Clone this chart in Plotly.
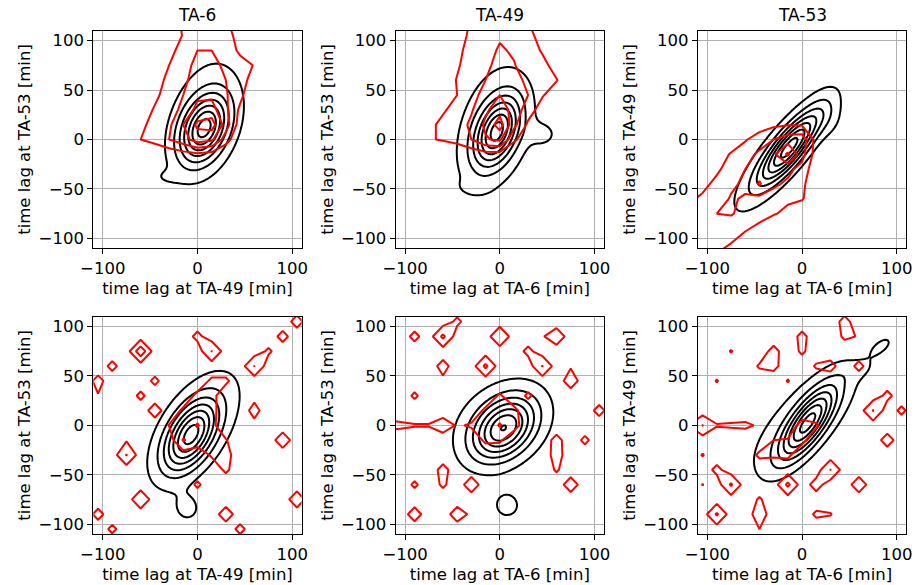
import numpy as np
import plotly.graph_objects as go

# ---------------- data ----------------
PANEL_TITLES = ["TA-6", "TA-49", "TA-53"]
X_LABELS = ["time lag at TA-49 [min]", "time lag at TA-6 [min]", "time lag at TA-6 [min]"]
Y_LABELS = ["time lag at TA-53 [min]", "time lag at TA-53 [min]", "time lag at TA-49 [min]"]
X_TICKS = [-100, 0, 100]
Y_TICKS = [-100, -50, 0, 50, 100]
LAG_RANGE = [-110, 110]

# black KDE described as blobs: (lag_x, lag_y, spread_x, spread_y, corr, height)
KDE_TOP_TA6 = [(7, 11, 17, 22.5, 0.35, 1.0), (8, 22, 34, 55, 0.3, 0.25), (-35, -38, 12, 6, 0.0, 0.08)]
KDE_TOP_TA49 = [(-3, 8, 16, 23, 0.4, 1.0), (-6, 13, 36, 60, 0.3, 0.25), (48, 5, 12, 10, 0.0, 0.14),
                (-30, -48, 12, 6, 0.0, 0.06)]
KDE_TOP_TA53 = [(-13, -8, 22, 25, 0.83, 1.0), (-22, -14, 45, 52, 0.85, 0.25), (30, 20, 12, 15, 0.0, 0.10),
                (46, 1, 4, 3, 0.0, 0.12)]
KDE_BOT_TA6 = [(-7, -10, 19, 24, 0.5, 1.0), (0, 2, 42, 50, 0.6, 0.25), (-10, -85, 12, 12, 0.0, 0.18)]
KDE_BOT_TA49 = [(4, -3, 22, 21, 0.35, 1.0), (2, 2, 45, 38, 0.2, 0.25), (8, -82, 14, 13, 0.0, 0.21)]
KDE_BOT_TA53 = [(6, 2, 20, 25, 0.75, 1.0), (0, 5, 52, 50, 0.75, 0.25), (60, 56, 14, 8, 0.5, 0.08),
                (85, 81, 11, 9, 0.6, 0.14)]
KDE_PEAK_DIVISOR = [7.5, 7.5, 7.5, 7.5, 7.05, 7.5]

# red histogram counts on a 15-min lattice, top row: rows (lag_y, first lag_x, values)
HIST_TOP_TA6 = [
    (120, -15, [1.3, 1.5, 1.5, 1.2]),
    (105, -15, [1.1, 1.8, 1.8, 1.4, 0.6]),
    (90, -30, [0.6, 1.5, 2.0, 2.0, 1.6, 0.8]),
    (75, -30, [1.0, 1.6, 2.3, 2.3, 1.8, 1.4, 0.95]),
    (60, -45, [0.5, 1.3, 1.8, 2.4, 2.5, 2.0, 1.4, 0.6]),
    (45, -45, [0.8, 1.4, 2.0, 2.8, 2.8, 2.1, 1.3]),
    (30, -60, [0.5, 1.1, 1.5, 2.3, 3.3, 3.4, 2.2, 0.8]),
    (15, -60, [0.8, 1.3, 1.8, 3.0, 4.2, 4.5, 2.5, 0.5]),
    (0, -60, [1.0, 1.4, 2.0, 2.6, 3.5, 3.2, 1.5]),
    (-15, -30, [0.3, 0.6, 0.8, 0.6]),
]
HIST_TOP_TA49 = [
    (120, -45, [0.3, 1.1, 1.4, 1.5, 1.4, 1.0, 0.2]),
    (105, -45, [0.6, 1.2, 1.6, 1.9, 1.8, 1.3, 0.6]),
    (90, -45, [0.8, 1.3, 1.7, 2.1, 1.9, 1.5, 0.9]),
    (75, -60, [0.2, 0.9, 1.4, 1.8, 2.3, 2.05, 1.6, 1.3, 0.6]),
    (60, -60, [0.5, 1.05, 1.5, 2.0, 2.6, 2.3, 1.8, 1.4, 1.05, 0.3]),
    (45, -60, [0.6, 1.0, 1.6, 2.4, 3.0, 2.5, 2.0, 1.1, 0.4]),
    (30, -75, [0.3, 0.9, 1.3, 1.9, 2.8, 3.6, 2.6, 1.5, 0.5]),
    (15, -75, [0.8, 1.2, 1.5, 2.2, 3.2, 4.5, 2.3, 0.8]),
    (0, -75, [0.9, 1.1, 1.4, 2.0, 2.9, 3.2, 1.2, 0.3]),
    (-15, -30, [0.3, 0.6, 0.6]),
]
HIST_TOP_TA53 = [
    (15, -45, [0.5, 0.8, 0.95, 0.9]),
    (0, -75, [0.3, 0.9, 1.5, 2.0, 2.5, 2.6, 0.6]),
    (-15, -90, [0.4, 1.1, 1.6, 2.2, 2.8, 4.2, 2.4, 0.5]),
    (-30, -90, [0.8, 1.5, 2.0, 2.6, 2.7, 2.3, 1.6, 0.3]),
    (-45, -105, [0.7, 1.3, 1.8, 2.2, 3.1, 2.2, 1.8, 1.3]),
    (-60, -120, [0.8, 1.2, 1.5, 2.1, 1.9, 1.7, 1.5, 1.2, 1.1, 0.2]),
    (-75, -120, [1.3, 1.4, 2.0, 2.1, 1.6, 1.3, 1.1, 0.7]),
    (-90, -120, [1.3, 1.5, 1.5, 1.3, 1.1, 0.8]),
    (-105, -120, [1.2, 1.3, 1.2, 1.0, 0.6]),
    (-120, -120, [1.1, 1.1, 0.9, 0.5]),
]
# bottom row: sparse cells (lag_x, lag_y, count)
HIST_BOT_TA6 = [
    (-60, 75, 4.5), (-90, 60, 1.5), (-105, 45, 1.6), (-105, 30, 0.9), (-45, 45, 1.4), (-60, 30, 1.4),
    (-45, 15, 1.9), (-75, -30, 3.1), (-75, -15, 0.8), (0, -60, 1.3), (-60, -75, 2.6), (-105, -90, 1.6),
    (-90, -105, 1.4), (105, 105, 1.7), (60, 120, 1.6), (90, 90, 1.6), (15, 75, 3.05), (0, 90, 1.5),
    (60, 60, 3.05), (75, 75, 1.3), (60, 15, 1.6), (60, 30, 0.5), (60, 0, 0.5), (90, -15, 2.1),
    (105, -75, 2.2), (30, -90, 2.0), (45, -105, 1.5),
    (0, 0, 3.2), (-15, 0, 1.6), (-30, 0, 1.05), (0, 15, 1.7), (-15, 15, 1.3), (0, 30, 1.4), (15, 30, 1.5),
    (15, 45, 1.3), (30, 45, 1.3), (15, 15, 1.5), (15, 0, 1.4), (15, -15, 1.6), (0, -15, 1.9),
    (-15, -15, 3.2), (30, -15, 1.1), (30, -30, 1.6), (30, -45, 1.3), (15, -30, 1.2),
]
HIST_BOT_TA49 = [
    (-45, 105, 1.4), (-90, 90, 1.5), (-60, 90, 3.5), (0, 90, 2.9), (60, 90, 2.3), (45, 90, 0.8),
    (-15, 60, 3.5), (-60, 60, 1.7), (-60, 45, 0.6), (45, 60, 3.1), (30, 75, 1.5), (75, 45, 2.0),
    (75, 60, 0.8), (-90, 30, 1.3), (30, 30, 1.3), (105, 15, 1.6),
    (-120, 0, 1.5), (-105, 0, 1.3), (-90, 0, 1.1), (-75, 0, 1.1), (-60, 0, 2.0), (-45, 0, 0.8),
    (0, 0, 3.2), (-15, 0, 1.5), (-30, 0, 1.2), (0, 15, 1.8), (0, 30, 1.2), (15, 15, 1.4), (15, 0, 1.6),
    (-15, 15, 1.3), (-15, -15, 1.3), (0, -15, 1.2),
    (60, -15, 1.6), (60, -30, 1.7), (60, -45, 1.2), (90, -15, 1.4), (-60, -45, 1.6), (-60, -60, 1.3),
    (-30, -60, 2.1), (-90, -60, 1.3), (75, -60, 2.0), (-90, -90, 1.9), (-45, -90, 2.0), (-30, -90, 0.6),
]
HIST_BOT_TA53 = [
    (45, 105, 1.6), (45, 90, 1.3), (60, 90, 0.9), (-75, 75, 1.1), (-90, 45, 1.1), (-30, 75, 1.6),
    (-30, 60, 1.5), (-15, 45, 1.1), (-45, 60, 1.2), (0, 90, 1.5), (0, 75, 1.3), (15, 60, 1.2),
    (30, 60, 1.6), (60, 60, 1.5), (75, 15, 3.1), (90, 30, 1.5), (105, 15, 1.4), (90, -15, 1.8),
    (-105, 0, 3.05), (-120, 0, 1.0), (-90, 0, 1.1), (-75, 0, 1.2), (-60, 0, 1.3), (-45, 0, 0.8),
    (-105, -30, 1.1), (-90, -45, 1.5), (-105, -60, 1.05), (-75, -60, 3.3), (-15, -60, 3.5),
    (15, -60, 1.8), (30, -45, 3.05), (60, -60, 2.1), (-90, -90, 3.3), (-45, -90, 2.0), (-45, -75, 1.2),
    (-45, -105, 1.0), (15, -90, 1.3), (30, -90, 1.1),
    (-45, -30, 1.3), (-30, -30, 1.2), (-15, -30, 1.3), (0, -15, 1.4), (0, 0, 1.6), (15, 0, 1.2),
    (-15, -15, 1.1), (-30, -15, 1.0),
]

KDE_SETS = [KDE_TOP_TA6, KDE_TOP_TA49, KDE_TOP_TA53, KDE_BOT_TA6, KDE_BOT_TA49, KDE_BOT_TA53]

# ---------------- grids ----------------
kde_lags = np.arange(-140, 141, 2.0)
hist_lags = np.arange(-135, 136, 15.0)
KX, KY = np.meshgrid(kde_lags, kde_lags)


def kde_surface(blobs):
    z = np.zeros_like(KX)
    for x0, y0, sx, sy, r, h in blobs:
        dx = (KX - x0) / sx
        dy = (KY - y0) / sy
        q = (dx * dx - 2 * r * dx * dy + dy * dy) / (1 - r * r)
        z += h * np.exp(-0.5 * q)
    return z


def hist_from_rows(rows):
    z = np.zeros((len(hist_lags), len(hist_lags)))
    for ly, x_first, vals in rows:
        yi = int(round((ly - hist_lags[0]) / 15))
        xi0 = int(round((x_first - hist_lags[0]) / 15))
        for k, v in enumerate(vals):
            z[yi, xi0 + k] = v
    return z


def hist_from_cells(cells):
    z = np.zeros((len(hist_lags), len(hist_lags)))
    for lx, ly, v in cells:
        yi = int(round((ly - hist_lags[0]) / 15))
        xi = int(round((lx - hist_lags[0]) / 15))
        z[yi, xi] = v
    return z


HIST_Z = [hist_from_rows(HIST_TOP_TA6), hist_from_rows(HIST_TOP_TA49), hist_from_rows(HIST_TOP_TA53),
          hist_from_cells(HIST_BOT_TA6), hist_from_cells(HIST_BOT_TA49), hist_from_cells(HIST_BOT_TA53)]
RED_LEVELS = [(1, 1, 6)] * 3 + [(1, 2, 7)] * 3  # (start, size, end)

# ---------------- layout ----------------
W, H = 921, 585
COL_PX = [(82, 294.7), (390.7, 603.3), (699.3, 912)]
ROW_PX = [(30.7, 248.3), (316.7, 534)]
FONT = "DejaVu Sans"
FS = 16.5

fig = go.Figure()
layout = dict(width=W, height=H, margin=dict(l=0, r=0, t=0, b=0),
              paper_bgcolor="white", plot_bgcolor="white",
              font=dict(family=FONT, size=FS, color="black"), showlegend=False)
annotations = []

for i in range(6):
    r, c = divmod(i, 3)
    n = i + 1
    xs = "x" if n == 1 else f"x{n}"
    ys = "y" if n == 1 else f"y{n}"

    zk = kde_surface(KDE_SETS[i])
    d = zk.max() / KDE_PEAK_DIVISOR[i]
    fig.add_trace(go.Contour(
        x=kde_lags, y=kde_lags, z=zk, xaxis=xs, yaxis=ys, autocontour=False,
        contours=dict(start=d, end=7 * d, size=d, coloring="lines"),
        colorscale=[[0, "black"], [1, "black"]], showscale=False,
        line=dict(width=2, smoothing=0), hoverinfo="skip"))

    s, sz, e = RED_LEVELS[i]
    fig.add_trace(go.Contour(
        x=hist_lags, y=hist_lags, z=HIST_Z[i], xaxis=xs, yaxis=ys, autocontour=False,
        contours=dict(start=s, end=e, size=sz, coloring="lines"),
        colorscale=[[0, "red"], [1, "red"]], showscale=False,
        line=dict(width=2, smoothing=0), hoverinfo="skip"))

    x0, x1 = COL_PX[c]
    t, b = ROW_PX[r]
    common = dict(range=LAG_RANGE, showgrid=True, gridcolor="#b0b0b0", gridwidth=1,
                  zeroline=False, showline=True, linecolor="black", linewidth=1.2, mirror=True,
                  ticks="outside", ticklen=5, tickwidth=1, tickcolor="black",
                  tickfont=dict(size=FS, family=FONT))
    layout["xaxis" if n == 1 else f"xaxis{n}"] = dict(
        common, domain=[x0 / W, x1 / W], anchor=ys, tickvals=X_TICKS,
        title=dict(text=X_LABELS[c], font=dict(size=FS), standoff=5))
    layout["yaxis" if n == 1 else f"yaxis{n}"] = dict(
        common, domain=[1 - b / H, 1 - t / H], anchor=xs, tickvals=Y_TICKS,
        title=dict(text=Y_LABELS[c], font=dict(size=FS), standoff=3))

for c in range(3):
    x0, x1 = COL_PX[c]
    annotations.append(dict(text=PANEL_TITLES[c], xref="paper", yref="paper",
                            x=(x0 + x1) / 2 / W, y=1 - 15 / H, xanchor="center", yanchor="middle",
                            showarrow=False, font=dict(size=FS + 0.5, family=FONT)))
layout["annotations"] = annotations
fig.update_layout(**layout)
fig.write_html("out.html")
